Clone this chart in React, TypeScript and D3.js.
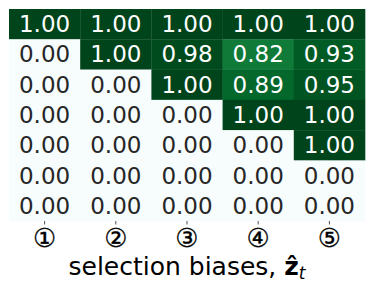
import React, { useEffect, useRef } from 'react';
import * as d3 from 'd3';

const rowLabels = ['r0', 'r1', 'r2', 'r3', 'r4', 'r5', 'r6'];
const colLabels = ['①', '②', '③', '④', '⑤'];
const values = [
  [1.0, 1.0, 1.0, 1.0, 1.0],
  [0.0, 1.0, 0.98, 0.82, 0.93],
  [0.0, 0.0, 1.0, 0.89, 0.95],
  [0.0, 0.0, 0.0, 1.0, 1.0],
  [0.0, 0.0, 0.0, 0.0, 1.0],
  [0.0, 0.0, 0.0, 0.0, 0.0],
  [0.0, 0.0, 0.0, 0.0, 0.0],
];

const App = () => {
  const ref = useRef<SVGSVGElement>(null);

  useEffect(() => {
    const width = 374;
    const height = 299;
    const margin = { top: 9, right: 9, bottom: 78, left: 9 };

    const svg = d3.select(ref.current);
    svg.selectAll('*').remove();
    svg.attr('width', width).attr('height', height);

    const font = '"DejaVu Sans", sans-serif';

    const x = d3
      .scaleBand()
      .domain(colLabels)
      .range([margin.left, width - margin.right])
      .padding(0);
    const y = d3
      .scaleBand()
      .domain(rowLabels)
      .range([margin.top, height - margin.bottom])
      .padding(0);
    const color = d3.scaleSequential(d3.interpolateBuGn).domain([0, 1]);

    const cells = values.flatMap((row, i) =>
      row.map((v, j) => ({ r: rowLabels[i], c: colLabels[j], v }))
    );

    const g = svg.append('g');
    g.selectAll('rect')
      .data(cells)
      .enter()
      .append('rect')
      .attr('x', (d) => x(d.c)!)
      .attr('y', (d) => y(d.r)!)
      .attr('width', x.bandwidth() + 0.3)
      .attr('height', y.bandwidth() + 0.3)
      .attr('fill', (d) => color(d.v));

    g.selectAll('text.val')
      .data(cells)
      .enter()
      .append('text')
      .attr('class', 'val')
      .attr('x', (d) => x(d.c)! + x.bandwidth() / 2)
      .attr('y', (d) => y(d.r)! + y.bandwidth() / 2 + 8)
      .attr('text-anchor', 'middle')
      .style('font-family', font)
      .style('font-size', '23px')
      .attr('fill', (d) => (d.v > 0.5 ? '#ffffff' : '#262626'))
      .text((d) => d.v.toFixed(2));

    // x axis
    const axisY = height - margin.bottom;
    const ticks = svg.append('g');
    ticks
      .selectAll('line')
      .data(colLabels)
      .enter()
      .append('line')
      .attr('x1', (d) => x(d)! + x.bandwidth() / 2)
      .attr('x2', (d) => x(d)! + x.bandwidth() / 2)
      .attr('y1', axisY)
      .attr('y2', axisY + 3.5)
      .attr('stroke', '#262626')
      .attr('stroke-width', 0.8);
    ticks
      .selectAll('text')
      .data(colLabels)
      .enter()
      .append('text')
      .attr('x', (d) => x(d)! + x.bandwidth() / 2)
      .attr('y', axisY + 26)
      .attr('text-anchor', 'middle')
      .style('font-family', font)
      .style('font-size', '26px')
      .attr('fill', '#000')
      .attr('stroke', '#000')
      .attr('stroke-width', 0.3)
      .text((d) => d);

    const label = svg
      .append('text')
      .attr('x', (margin.left + width - margin.right) / 2)
      .attr('y', 275)
      .attr('text-anchor', 'middle')
      .style('font-family', font)
      .style('font-size', '25px')
      .attr('fill', '#000');
    label.append('tspan').text('selection biases, ');
    label.append('tspan').style('font-weight', 'bold').text('\u1E91');
    label
      .append('tspan')
      .attr('dy', 4)
      .style('font-style', 'italic')
      .style('font-size', '17px')
      .text('t');
  }, []);

  return (
    <div style={{ margin: -8 }}>
      <svg ref={ref} />
    </div>
  );
};

export default App;
